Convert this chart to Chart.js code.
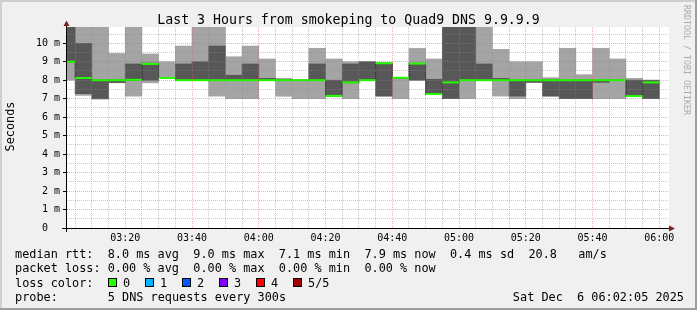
<!DOCTYPE html>
<html>
<head>
<meta charset="utf-8">
<script src="https://cdn.jsdelivr.net/npm/chart.js@4.4.1/dist/chart.umd.min.js"></script>
<style>
  html, body { margin: 0; padding: 0; background: #f0f0f0; }
  #graph { display: block; }
</style>
</head>
<body>
<canvas id="graph" width="697" height="310"></canvas>
<script>
// end time of every 5 minute step
const times = [
  "03:05", "03:10", "03:15", "03:20", "03:25", "03:30", "03:35", "03:40", "03:45",
  "03:50", "03:55", "04:00", "04:05", "04:10", "04:15", "04:20", "04:25", "04:30",
  "04:35", "04:40", "04:45", "04:50", "04:55", "05:00", "05:05", "05:10", "05:15",
  "05:20", "05:25", "05:30", "05:35", "05:40", "05:45", "05:50", "05:55", "06:00",
];

// the 5 sorted rtt samples of each step (ms)
const ping1 = [8.0, 7.18, 6.98, 7.86, 7.14, 7.86, 8.1, 7.98, 8.0, 7.13, 7.0, 7.0, 8.0, 7.13, 7.0, 7.0, 7.12, 7.0,
  8.0, 7.14, 7.0, 8.0, 7.22, 7.0, 7.0, 8.0, 7.14, 7.0, 7.88, 7.14, 7.0, 7.0, 7.0, 7.0, 7.12, 7.0];
const ping2 = [8.98, 7.27, 7.0, 7.87, 8.0, 8.0, 8.1, 8.0, 8.0, 8.0, 8.0, 8.0, 8.0, 8.0, 8.0, 8.0, 7.12, 7.85,
  8.0, 7.14, 8.1, 8.0, 7.22, 7.0, 7.98, 8.0, 8.0, 7.14, 7.88, 7.14, 7.0, 7.0, 7.88, 8.0, 7.12, 7.0];
const median = [9.0, 8.12, 8.0, 8.0, 8.02, 8.88, 8.12, 8.0, 8.0, 8.0, 8.0, 8.0, 8.0, 8.0, 8.0, 8.0, 7.15, 7.88,
  8.0, 8.92, 8.13, 8.9, 7.25, 7.88, 8.0, 8.0, 8.0, 8.0, 8.0, 8.0, 8.0, 8.0, 8.0, 8.0, 7.14, 7.88];
const ping4 = [11.6, 10.0, 8.03, 8.02, 8.88, 8.93, 8.15, 8.88, 9.0, 9.85, 8.27, 8.88, 8.1, 8.03, 8.0, 8.88, 8.0, 8.88,
  9.0, 8.93, 8.14, 8.92, 8.05, 12.1, 11.8, 8.88, 8.1, 8.02, 8.02, 8.05, 8.02, 8.02, 8.02, 8.02, 8.0, 8.0];
const ping5 = [12.3, 11.9, 11.7, 9.45, 12.0, 9.42, 9.0, 9.85, 12.2, 11.4, 9.27, 9.85, 9.15, 8.1, 8.03, 9.72, 9.15, 9.0,
  9.0, 8.95, 8.15, 9.72, 9.15, 12.6, 12.4, 11.5, 9.67, 9.0, 9.0, 8.14, 9.73, 8.3, 9.73, 9.15, 8.1, 8.0];

// axis labels
const xTickMinutes = [20, 40, 60, 80, 100, 120, 140, 160, 180];
const xTickLabels = ["03:20", "03:40", "04:00", "04:20", "04:40", "05:00", "05:20", "05:40", "06:00"];
const yTickValues = [0, 1, 2, 3, 4, 5, 6, 7, 8, 9, 10];
const yTickLabels = ["0  ", "1 m", "2 m", "3 m", "4 m", "5 m", "6 m", "7 m", "8 m", "9 m", "10 m"];

const lossColors = ["#26ff00", "#00b8ff", "#0059ff", "#7e00ff", "#ff0000", "#a00000"];
const lossLabels = ["0", "1", "2", "3", "4", "5/5"];

const titleText = "Last 3 Hours from smokeping to Quad9 DNS 9.9.9.9";
const rttLine = "median rtt:  8.0 ms avg  9.0 ms max  7.1 ms min  7.9 ms now  0.4 ms sd  20.8   am/s";
const lossLine = "packet loss: 0.00 % avg  0.00 % max  0.00 % min  0.00 % now";
const probeText = "5 DNS requests every 300s";
const stampText = "Sat Dec  6 06:02:05 2025";

const MONO = "'DejaVu Sans Mono', monospace";
const MINOR_GRID = "rgba(140, 140, 140, 0.45)";
const MAJOR_GRID = "rgba(235, 90, 90, 0.5)";

// minutes after 03:00, middle of the step
function stepCentre(t) {
  const parts = t.split(":").map(Number);
  return (parts[0] - 3) * 60 + parts[1] - 2.5;
}
const centres = times.map(stepCentre);

const outerSmoke = centres.map((x, i) => ({ x: x, y: [ping1[i], ping5[i]] }));
const innerSmoke = centres.map((x, i) => ({ x: x, y: [ping2[i], ping4[i]] }));
const medianPts = centres.map((x, i) => ({ x: x, y: median[i] }));

const decorations = {
  id: "decorations",
  beforeDraw(chart) {
    const ctx = chart.ctx;
    const a = chart.chartArea;
    ctx.save();
    ctx.fillStyle = "#f0f0f0";
    ctx.fillRect(0, 0, 697, 310);
    ctx.fillStyle = "#cfcfcf";
    ctx.fillRect(0, 0, 697, 2);
    ctx.fillRect(0, 0, 2, 310);
    ctx.fillStyle = "#9e9e9e";
    ctx.fillRect(0, 308, 697, 2);
    ctx.fillRect(695, 0, 2, 310);
    ctx.fillStyle = "#ffffff";
    ctx.fillRect(a.left, a.top, a.right - a.left, a.bottom - a.top);
    ctx.restore();
  },
  afterDraw(chart) {
    const ctx = chart.ctx;
    const a = chart.chartArea;
    ctx.save();

    // axes
    ctx.strokeStyle = "#000";
    ctx.lineWidth = 1;
    ctx.beginPath();
    ctx.moveTo(62, a.bottom + 0.5);
    ctx.lineTo(a.right + 1, a.bottom + 0.5);
    ctx.moveTo(a.left - 0.5, a.bottom + 4);
    ctx.lineTo(a.left - 0.5, a.top - 1);
    ctx.stroke();

    ctx.fillStyle = "#7f1f1f";
    ctx.beginPath();
    ctx.moveTo(a.right, a.bottom - 2.5);
    ctx.lineTo(a.right + 6, a.bottom + 0.5);
    ctx.lineTo(a.right, a.bottom + 3.5);
    ctx.closePath();
    ctx.fill();
    ctx.beginPath();
    ctx.moveTo(a.left - 3.5, a.top - 1);
    ctx.lineTo(a.left - 0.5, a.top - 6.5);
    ctx.lineTo(a.left + 2.5, a.top - 1);
    ctx.closePath();
    ctx.fill();

    // title
    ctx.fillStyle = "#000";
    ctx.font = "13.24px " + MONO;
    ctx.textAlign = "center";
    ctx.textBaseline = "alphabetic";
    ctx.fillText(titleText, 348.5, 23.5);

    // vertical label
    ctx.font = "11.85px " + MONO;
    ctx.save();
    ctx.translate(14, 126.5);
    ctx.rotate(-Math.PI / 2);
    ctx.fillText("Seconds", 0, 0);
    ctx.restore();

    // watermark
    ctx.save();
    ctx.fillStyle = "#ababab";
    ctx.font = "8.3px " + MONO;
    ctx.textAlign = "left";
    ctx.translate(684, 5);
    ctx.rotate(Math.PI / 2);
    ctx.fillText("RRDTOOL / TOBI OETIKER", 0, 0);
    ctx.restore();

    // legend rows
    ctx.font = "11.85px " + MONO;
    ctx.textAlign = "left";
    ctx.fillText(rttLine, 15, 258);
    ctx.fillText(lossLine, 15, 272.3);
    ctx.fillText("loss color:", 15, 286.5);
    lossColors.forEach((c, i) => {
      const bx = 108 + i * 37;
      ctx.fillStyle = c;
      ctx.fillRect(bx, 278, 9, 9);
      ctx.strokeStyle = "#000";
      ctx.strokeRect(bx + 0.5, 278.5, 8, 8);
      ctx.fillStyle = "#000";
      ctx.fillText(lossLabels[i], bx + 15, 286.5);
    });
    ctx.fillText("probe:", 15, 300.5);
    ctx.fillText(probeText, 107.8, 300.5);
    ctx.textAlign = "right";
    ctx.fillText(stampText, 684, 300.5);

    ctx.restore();
  },
};

new Chart(document.getElementById("graph"), {
  type: "bar",
  data: {
    datasets: [
      {
        type: "line",
        data: medianPts,
        showLine: false,
        pointStyle: "line",
        pointRadius: 8.35,
        pointBorderWidth: 2,
        pointBorderColor: lossColors[0],
        pointBackgroundColor: lossColors[0],
        clip: 0,
        order: 1,
      },
      {
        type: "line",
        data: medianPts,
        stepped: "middle",
        borderColor: "#000",
        borderWidth: 1,
        borderDash: [1, 1],
        pointRadius: 0,
        fill: false,
        clip: 0,
        order: 2,
      },
      {
        data: innerSmoke,
        backgroundColor: "#585858",
        borderWidth: 0,
        grouped: false,
        barPercentage: 1,
        categoryPercentage: 1,
        clip: 0,
        order: 3,
      },
      {
        data: outerSmoke,
        backgroundColor: "#a4a4a4",
        borderWidth: 0,
        grouped: false,
        barPercentage: 1,
        categoryPercentage: 1,
        clip: 0,
        order: 4,
      },
    ],
  },
  options: {
    responsive: false,
    animation: false,
    devicePixelRatio: 1,
    events: [],
    layout: { padding: { left: 0, top: 27, right: 28, bottom: 62 } },
    plugins: {
      legend: { display: false },
      tooltip: { enabled: false },
      title: { display: false },
    },
    scales: {
      x: {
        type: "linear",
        min: 2.55,
        max: 182.9,
        offset: false,
        afterFit: (s) => { s.height = 20; },
        border: { display: false, dash: [1, 1] },
        grid: {
          z: 1,
          offset: false,
          drawTicks: false,
          color: (c) => (c.tick && c.tick.value % 20 === 0 ? MAJOR_GRID : MINOR_GRID),
        },
        ticks: {
          stepSize: 5,
          includeBounds: false,
          autoSkip: false,
          maxRotation: 0,
          padding: 4,
          color: "#000",
          font: { family: MONO, size: 10 },
          callback: (v) => {
            const i = xTickMinutes.indexOf(v);
            return i < 0 ? "" : xTickLabels[i];
          },
        },
      },
      y: {
        type: "linear",
        min: 0,
        max: 10.88,
        afterFit: (s) => { s.width = 67; },
        border: { display: false, dash: [1, 1] },
        grid: {
          z: 1,
          tickLength: 4,
          color: (c) => (c.tick && Number.isInteger(c.tick.value) ? MAJOR_GRID : MINOR_GRID),
          tickColor: (c) => (c.tick && Number.isInteger(c.tick.value) ? "#000" : "rgba(0,0,0,0)"),
        },
        ticks: {
          stepSize: 0.5,
          includeBounds: false,
          autoSkip: false,
          padding: 3,
          color: "#000",
          font: { family: MONO, size: 10 },
          callback: (v) => {
            const i = yTickValues.indexOf(v);
            return i < 0 ? "" : yTickLabels[i];
          },
        },
      },
    },
  },
  plugins: [decorations],
});
</script>
</body>
</html>
